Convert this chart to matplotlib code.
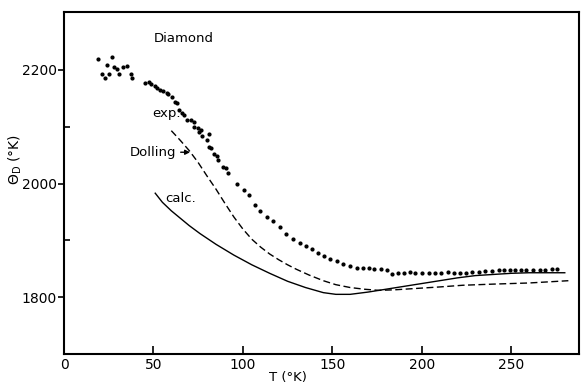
import matplotlib
matplotlib.use("Agg")
import matplotlib.pyplot as plt
from matplotlib.ticker import MultipleLocator

# === experimental points (T in K, Theta_D in K) ===
exp_T = [19.2, 21.4, 22.8, 23.9, 25.3, 26.9, 28.1, 29.8, 30.8, 32.8, 35.3, 37.5, 37.9,
         45.3, 47.7, 48.7, 50.9, 52.2, 53.7, 55.2, 57.5, 58.4, 60.6, 62.1, 63.1,
         64.5, 65.8, 67.3, 68.7, 70.9, 72.4, 72.9, 74.8, 75.7, 76.7, 77.2, 79.8, 80.8,
         80.8, 82.3, 83.6, 85.4, 86.2, 88.8, 90.3, 91.8, 96.6, 100.7, 103.7,
         106.7, 109.7, 113.4, 116.6, 120.9, 124.2, 127.8, 131.7, 135.4, 138.6, 142.0,
         145.5, 148.9, 152.6, 155.9, 160.0, 163.8, 167.1, 170.3, 173.6, 177.2, 180.6,
         183.4, 186.5, 189.9, 193.2, 196.4, 200.1, 203.9, 207.6, 210.8, 214.5, 217.9,
         221.6, 225.0, 228.3, 231.9, 235.6, 239.3, 243.0, 246.2, 249.2, 252.4, 255.6,
         258.5, 262.3, 266.4, 269.2, 272.9, 275.7]
exp_theta = [2219, 2193, 2185, 2209, 2192, 2222, 2205, 2201, 2192, 2205, 2206, 2193, 2186,
             2177, 2178, 2175, 2172, 2168, 2164, 2162, 2159, 2158, 2153, 2144, 2141,
             2130, 2124, 2121, 2112, 2111, 2109, 2100, 2097, 2090, 2094, 2084, 2077, 2087,
             2065, 2062, 2052, 2048, 2041, 2029, 2027, 2019, 1999, 1989, 1980,
             1963, 1952, 1941, 1934, 1923, 1912, 1902, 1896, 1890, 1885, 1878,
             1872, 1867, 1863, 1859, 1855, 1852, 1852, 1851, 1849, 1849, 1848,
             1841, 1843, 1843, 1845, 1843, 1843, 1843, 1843, 1843, 1845, 1843,
             1843, 1843, 1845, 1845, 1846, 1846, 1847, 1848, 1848, 1848, 1847,
             1847, 1848, 1847, 1847, 1850, 1849]

# === calculated curve ===
calc_T = [51, 55, 60, 65, 70, 76, 85, 95, 105, 115, 125, 135, 145, 152, 160,
          170, 180, 190, 200, 210, 220, 230, 240, 250, 260, 270, 280]
calc_theta = [1983, 1967, 1952, 1939, 1926, 1912, 1893, 1874, 1857, 1842, 1828,
              1817, 1808, 1805, 1805, 1809, 1814, 1819, 1824, 1829, 1834, 1838,
              1840, 1842, 1843, 1843, 1843]

# === Dolling curve ===
dol_T = [60, 65, 70, 75, 80, 85, 90, 95, 100, 105, 110, 115, 120, 125, 130, 137,
         145, 152, 160, 168, 176, 185, 195, 210, 223, 240, 260, 282]
dol_theta = [2093, 2076, 2058, 2037, 2013, 1990, 1965, 1941, 1920, 1902, 1888,
             1876, 1866, 1857, 1849, 1839, 1829, 1822, 1817, 1814, 1812, 1813,
             1815, 1818, 1821, 1823, 1825, 1829]

fig = plt.figure(figsize=(5.82, 3.85), dpi=100)
ax = fig.add_axes([0.110, 0.0805, 0.885, 0.8885])

ax.plot(exp_T, exp_theta, ls="none", marker="o", ms=2.0, color="black")
ax.plot(calc_T, calc_theta, color="black", lw=1.0)
ax.plot(dol_T, dol_theta, color="black", lw=1.0, dashes=(5, 2.5))

ax.set_xlim(0, 288)
ax.set_ylim(1700, 2302)

ax.xaxis.set_major_locator(MultipleLocator(50))
ax.set_yticks([1800, 2000, 2200])
ax.set_yticks([1900, 2100], minor=True)
ax.tick_params(axis="x", direction="in", length=6, width=1.2, labelsize=10, pad=3)
ax.tick_params(axis="y", which="major", direction="out", length=4, width=1.2,
               labelsize=10, pad=1)
ax.tick_params(axis="y", which="minor", direction="in", length=4, width=1.2)
for s in ax.spines.values():
    s.set_linewidth(1.5)

ax.text(50.4, 2255, "Diamond", fontsize=9.5, va="center")
ax.text(49.2, 2124, "exp.", fontsize=9.5, va="center")
ax.text(56.5, 1974, "calc.", fontsize=9.5, va="center")
ax.annotate("Dolling", xy=(70.5, 2055), xytext=(36.9, 2055.5), fontsize=9.5,
            va="center", arrowprops=dict(arrowstyle="-|>", color="black", lw=1.0,
                                         mutation_scale=7, shrinkA=1, shrinkB=0))

ax.set_ylabel(r"$\Theta_{\rm D}$ (°K)", fontsize=10)
ax.yaxis.set_label_coords(-0.077, 0.57)
fig.text(288 / 582, 1 - 377 / 385, "T (°K)", fontsize=9.5, ha="center", va="center")

fig.savefig("out.png", dpi=100)
